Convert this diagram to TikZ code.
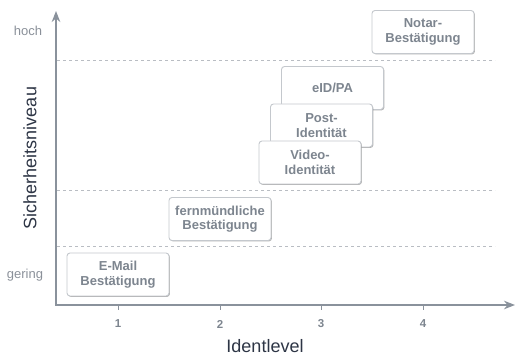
\documentclass[tikz,border=0pt]{standalone}
\usepackage{fontspec}
\setmainfont{Liberation Sans}
\usetikzlibrary{arrows.meta,shadows}
\definecolor{axisgray}{HTML}{8A929C}
\definecolor{gridgray}{HTML}{B9BDC3}
\definecolor{boxborder}{HTML}{C4C8CD}
\definecolor{boxtext}{HTML}{7D858F}
\definecolor{labeldark}{HTML}{2D3545}
\definecolor{levelgray}{HTML}{8A9099}
\tikzset{
  methodbox/.style={draw=boxborder, fill=white, line width=0.9pt,
    rounded corners=3pt, minimum width=102pt, minimum height=43pt,
    inner sep=0pt, align=center, text=boxtext,
    font=\fontsize{13}{14.5}\selectfont\bfseries,
    drop shadow={shadow xshift=0.9pt, shadow yshift=-0.9pt,
      fill=black!55, opacity=0.55}},
  axisline/.style={draw=axisgray, line width=1.8pt,
    -{Stealth[length=11pt,width=8.5pt]}},
  gridline/.style={draw=gridgray, line width=0.9pt,
    dash pattern=on 3pt off 3pt},
  ticklabel/.style={text=boxtext, font=\fontsize{11.5}{13}\selectfont\bfseries},
  levellabel/.style={text=levelgray, font=\fontsize{13}{15}\selectfont},
  axistitle/.style={text=labeldark, font=\fontsize{18}{21}\selectfont},
}
\begin{document}
\begin{tikzpicture}[x=1pt, y=-1pt]
  \useasboundingbox (0,0) rectangle (515,358);

  % security level bands
  \draw[gridline] (57,60) -- (495,60);
  \draw[gridline] (57,190) -- (495,190);
  \draw[gridline] (57,246) -- (495,246);

  % axes
  \coordinate (O) at (56,305);
  \coordinate (ytop) at (56,11);
  \coordinate (xend) at (515,305);
  \draw[axisline] (O) -- (ytop);
  \draw[axisline] ([xshift=-0.9pt]O) -- (xend);

  % x ticks and tick labels
  \foreach \x/\n in {118/1, 220/2, 321/3, 423/4} {
    \draw[draw=axisgray, line width=0.9pt] (\x,305) -- (\x,310);
    \node[ticklabel] (t\n) at (\x,324) {\n};
  }

  % level labels and axis titles
  \node[levellabel] (hoch) at (28,31) {hoch};
  \node[levellabel] (gering) at (25,275) {gering};
  \node[axistitle, rotate=90] (ytitle) at (30,158) {Sicherheitsniveau};
  \node[axistitle] (xtitle) at (265,346) {Identlevel};

  % identification methods
  \node[methodbox] (email) at (118,274.5) {E-Mail\\Bestätigung};
  \node[methodbox] (phone) at (220,219) {fernmündliche\\Bestätigung};
  \node[methodbox] (eid) at (332.5,88) {eID/PA};
  \node[methodbox] (post) at (321.5,125.5) {Post-\\Identität};
  \node[methodbox] (video) at (310,162.5) {Video-\\Identität};
  \node[methodbox] (notar) at (423,32) {Notar-\\Bestätigung};
\end{tikzpicture}
\end{document}
